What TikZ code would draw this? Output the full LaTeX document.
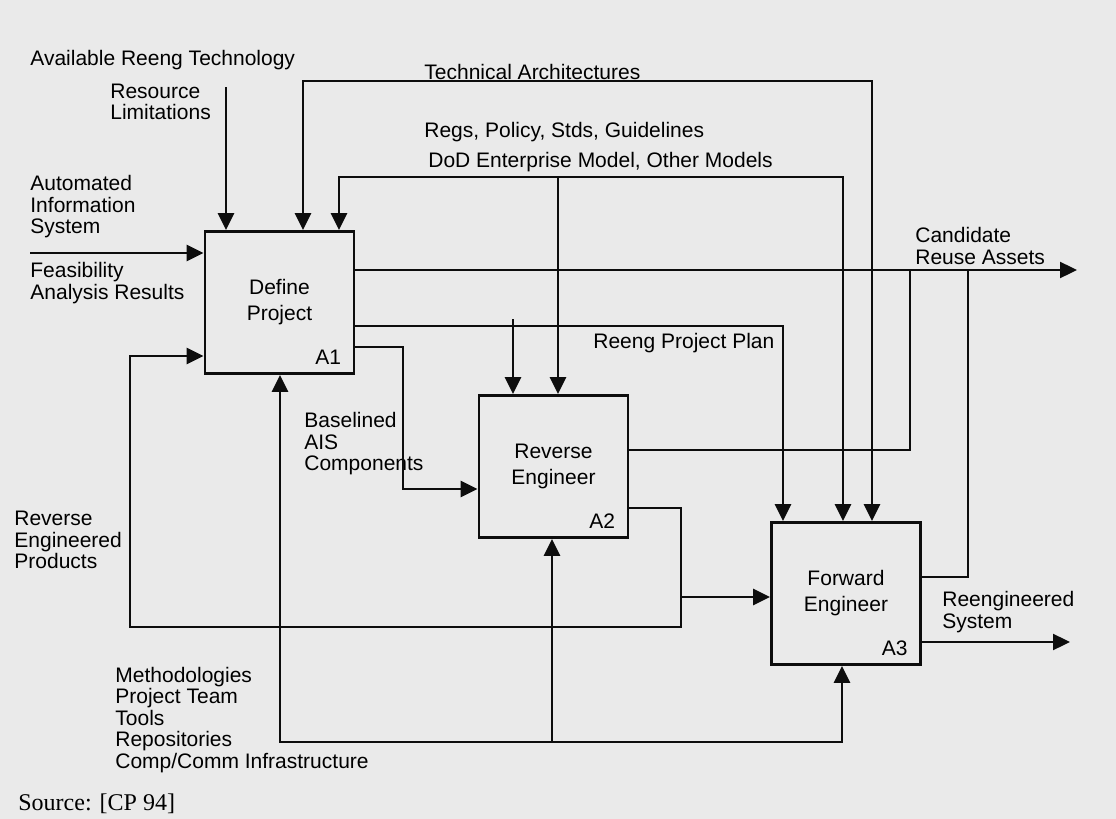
\documentclass[tikz,border=0pt]{standalone}
\usepackage{fontspec}
\setmainfont{Liberation Sans}
\newfontfamily\srcfont{Liberation Serif}
\usepackage{xcolor}
\usetikzlibrary{arrows.meta,calc,positioning}
\definecolor{paper}{HTML}{EAEAEA}
\definecolor{ink}{HTML}{0D0D0D}

\begin{document}
\begin{tikzpicture}[x=0.5pt,y=-0.5pt,>={Triangle[length=8.5pt,width=8pt]},
  every node/.style={font=\fontsize{10.5}{10.75}\selectfont},
  box/.style={draw=ink,line width=1.4pt,minimum width=74.5pt,minimum height=71pt,align=center,inner sep=0pt,font=\fontsize{10.5}{13}\selectfont},
  lbl/.style={anchor=west,align=left,inner sep=0pt},
  tag/.style={anchor=south east,inner sep=0pt,xshift=-7pt,yshift=5pt},
  flow/.style={draw=ink,line width=1.2pt}]
  \useasboundingbox[fill=paper] (0,0) rectangle (1116,819);
  \node[box] (a1) at (279.5,302.5) {Define\\Project};
  \node[box] (a2) at (553.5,466.5) {Reverse\\Engineer};
  \node[box] (a3) at (846,593.5) {Forward\\Engineer};
  \foreach \k in {1,2,3}{
    \node[tag] (t\k) at (a\k.south east) {A\k};
  }
  \node[lbl] (avail) at (30,60) {Available Reeng Technology};
  \node[lbl] (reslim) at (110,102) {Resource\\Limitations};
  \node[lbl] (tech) at (424,72) {Technical Architectures};
  \node[lbl] (regs) at (424,132) {Regs, Policy, Stds, Guidelines};
  \node[lbl] (dod) at (428,162) {DoD Enterprise Model, Other Models};
  \node[lbl] (aisl) at (30,207) {Automated\\Information\\System};
  \node[lbl] (feas) at (30,283) {Feasibility\\Analysis Results};
  \node[lbl] (reuse) at (915,246) {Candidate\\Reuse Assets};
  \node[lbl] (plan) at (593,343) {Reeng Project Plan};
  \node[lbl] (base) at (304,444) {Baselined\\AIS\\Components};
  \node[lbl] (rep) at (14,540) {Reverse\\Engineered\\Products};
  \node[lbl] (mech) at (115,720) {Methodologies\\Project Team\\Tools\\Repositories\\Comp/Comm Infrastructure};
  \node[lbl] (rsys) at (942,612) {Reengineered\\System};
  \coordinate (avl) at (226,87);
  \coordinate (ta) at (303,81);
  \coordinate (tb) at (872,81);
  \coordinate (da) at (339,177);
  \coordinate (dm) at (558,177);
  \coordinate (db) at (843,177);
  \coordinate (pa) at (783,326);
  \coordinate (pb) at (513,319);
  \coordinate (ais) at (30,253);
  \coordinate (ca) at (1077,270);
  \coordinate (cb) at (910,450);
  \coordinate (cc) at (968,577);
  \coordinate (ba) at (403,347);
  \coordinate (bb) at (403,489);
  \coordinate (ra) at (681,508);
  \coordinate (rb) at (681,627);
  \coordinate (rc) at (130,627);
  \coordinate (rd) at (130,356);
  \coordinate (re) at (681,597);
  \coordinate (ma) at (280,742);
  \coordinate (mb) at (552,742);
  \coordinate (mc) at (842,742);
  \coordinate (rs) at (1070,642);
  \draw[flow,->] (avl) -- (avl |- a1.north);
  \draw[flow,<->] (a1.north -| ta) -- (ta) -- (tb) -- (tb |- a3.north);
  \draw[flow,<->] (a1.north -| da) -- (da) -- (db) -- (db |- a3.north);
  \draw[flow,->] (dm) -- (dm |- a2.north);
  \draw[flow,->] (a1.east |- pa) -- (pa) -- (pa |- a3.north);
  \draw[flow,->] (pb) -- (pb |- a2.north);
  \draw[flow,->] (ais) -- (ais -| a1.west);
  \draw[flow,->] (a1.east |- ca) -- (ca);
  \draw[flow] (a2.east |- cb) -- (cb) -- (cb |- ca);
  \draw[flow] (a3.east |- cc) -- (cc) -- (cc |- ca);
  \draw[flow,->] (a1.east |- ba) -- (ba) -- (bb) -- (bb -| a2.west);
  \draw[flow,->] (a2.east |- ra) -- (ra) -- (rb) -- (rc) -- (rd) -- (rd -| a1.west);
  \draw[flow,->] (re) -- (re -| a3.west);
  \draw[flow,<->] (a1.south -| ma) -- (ma) -- (mc) -- (mc |- a3.south);
  \draw[flow,->] (mb) -- (mb |- a2.south);
  \draw[flow,->] (a3.east |- rs) -- (rs);
  \node[anchor=base west,inner sep=0pt,font=\srcfont\fontsize{12}{12}\selectfont] (src) at (18,810) {Source: [CP 94]};
\end{tikzpicture}
\end{document}
